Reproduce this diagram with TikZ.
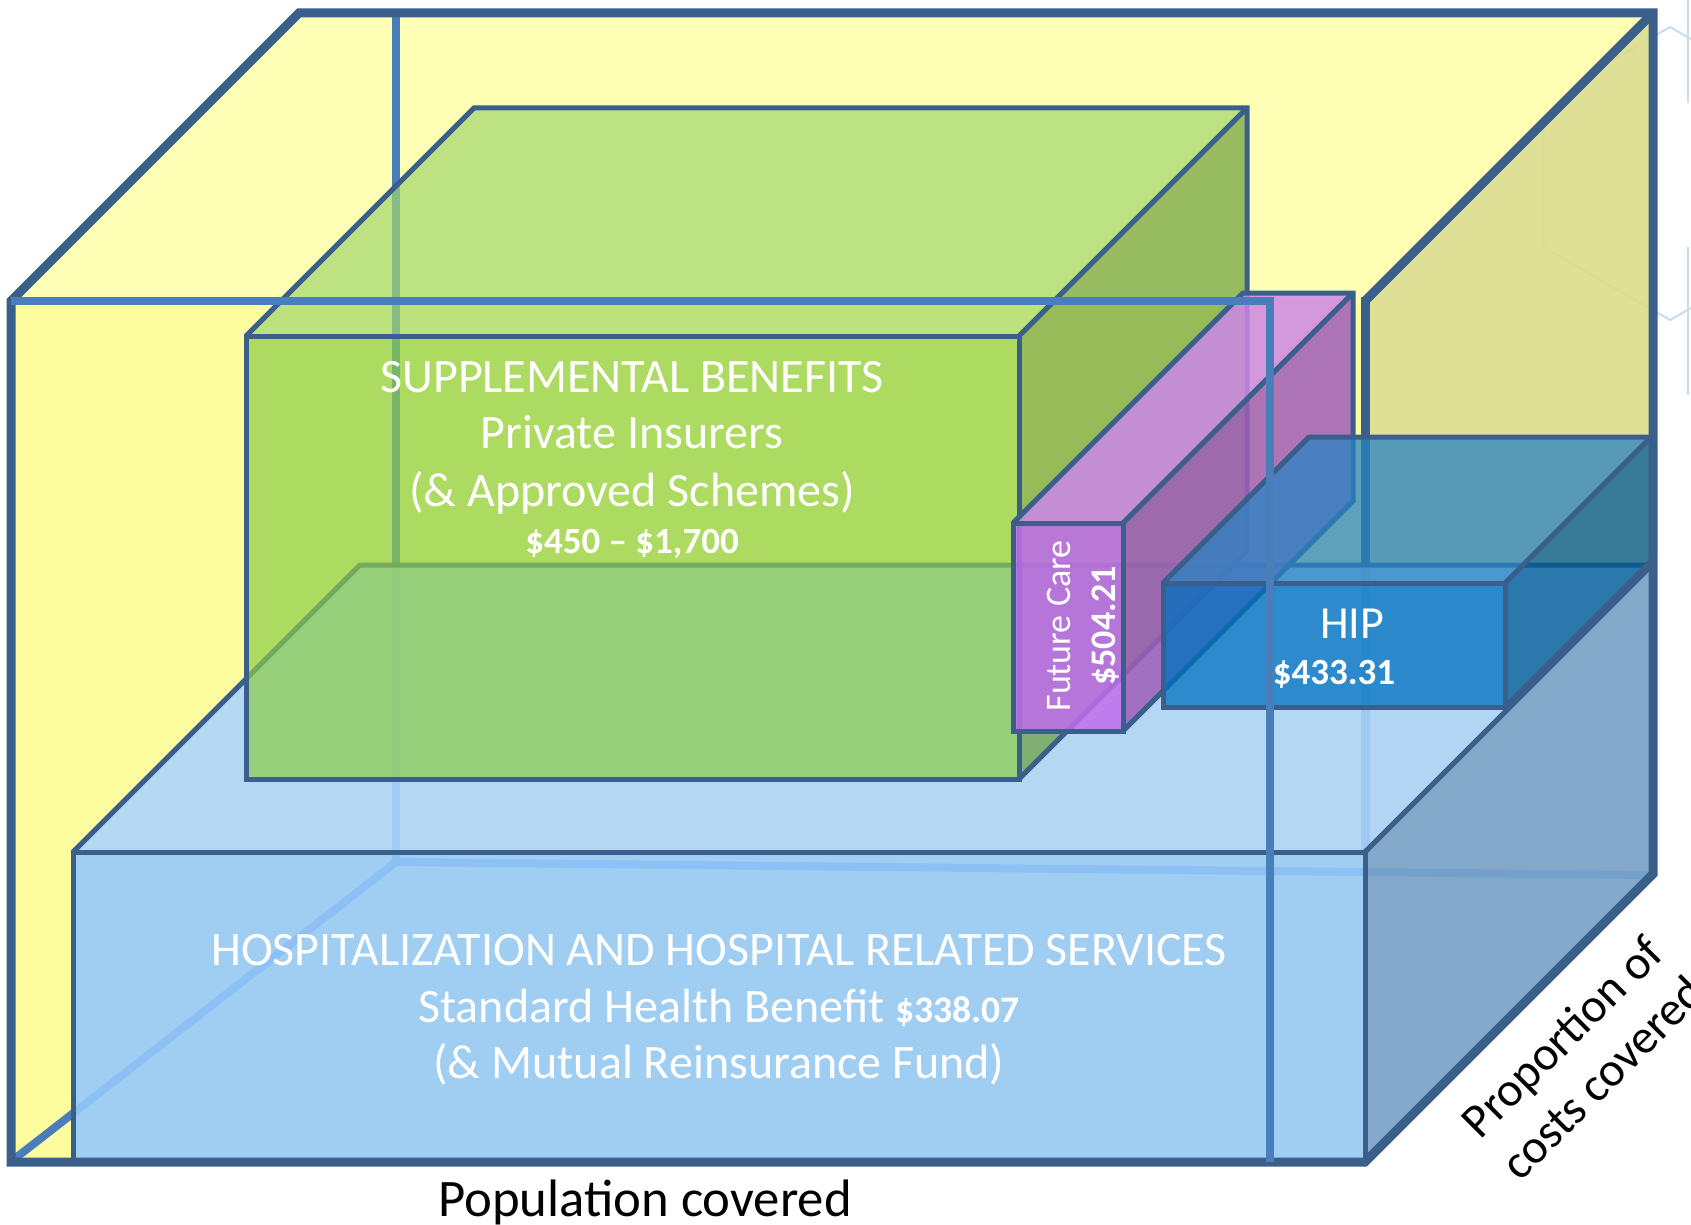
\documentclass[tikz,border=0pt]{standalone}
\usepackage{fontspec}
\setmainfont{Carlito}
\definecolor{edgeC}{HTML}{3A5F8B}
\definecolor{lightC}{HTML}{4A7EBB}
\definecolor{hexC}{HTML}{C6DCF0}
\definecolor{yTop}{HTML}{FFFFB5}
\definecolor{yFront}{HTML}{FDFDA0}
\definecolor{yRight}{HTML}{DCDC8A}
\definecolor{hTop}{HTML}{ADD4FD}
\definecolor{hFront}{HTML}{95C9FC}
\definecolor{hRight}{HTML}{7AA3CF}
\definecolor{gTop}{HTML}{A2D66D}
\definecolor{gFront}{HTML}{8CCC47}
\definecolor{gRight}{HTML}{6C9F3B}
\definecolor{pTop}{HTML}{CD88E8}
\definecolor{pFront}{HTML}{C06CEC}
\definecolor{pRight}{HTML}{9F5EBB}
\definecolor{bTop}{HTML}{2983C4}
\definecolor{bFront}{HTML}{0070C0}
\definecolor{bRight}{HTML}{005997}
\begin{document}
\begin{tikzpicture}[x=1pt,y=-1pt,line join=miter,
  outeredge/.style={draw=edgeC,line width=9pt},
  boxedge/.style={draw=edgeC,line width=5pt},
  lightedge/.style={draw=lightC,line width=8pt},
  hexline/.style={draw=hexC,line width=2pt},
  hospface/.style={fill opacity=0.9},
  greenface/.style={fill opacity=0.7},
  purpleface/.style={fill opacity=0.85},
  hipface/.style={fill opacity=0.75},
  whitetext/.style={text=white,inner sep=0pt,anchor=base},
  blacktext/.style={text=black,inner sep=0pt}]
\useasboundingbox (0,0) rectangle (1691,1225);
\fill[white] (0,0) rectangle (1691,1225);

% faint background hexagon
\draw[hexline] (1543,100) -- (1670,27) -- (1797,100) -- (1797,247) -- (1670,320) -- (1543,247) -- cycle;
\draw[hexline] (1688,-5) -- (1688,103);
\draw[hexline] (1688,247) -- (1688,395);

% outer box faces
\fill[yTop] (11,301) -- (299,13) -- (1653,13) -- (1365,301) -- cycle;
\fill[yRight,fill opacity=0.9] (1365,301) -- (1653,13) -- (1653,874) -- (1365,1162) -- cycle;
\fill[yFront] (11,301) rectangle (1365,1162);
\draw[outeredge] (1365,297) -- (1365,852);

% hidden edges of the outer box
\draw[lightedge] (396,9) -- (396,862);
\draw[lightedge] (13,1160) -- (396,862) -- (1651,875);

% hospitalization box
\fill[hTop,hospface] (73,852) -- (360,565) -- (1652,565) -- (1365,852) -- cycle;
\fill[hRight,hospface] (1365,852) -- (1652,565) -- (1652,874) -- (1365,1162) -- cycle;
\fill[hFront,hospface] (73,852) rectangle (1365,1162);
\draw[boxedge] (73,852) rectangle (1365,1162);
\draw[boxedge] (73,852) -- (360,565) -- (1652,565);
\draw[boxedge] (1365,852) -- (1652,565);

% supplemental (green) box
\fill[gTop,greenface] (246,336) -- (474,108) -- (1247,108) -- (1019,336) -- cycle;
\fill[gRight,greenface] (1019,336) -- (1247,108) -- (1247,551) -- (1019,779) -- cycle;
\fill[gFront,greenface] (246,336) rectangle (1019,779);
\draw[boxedge] (246,336) -- (474,108) -- (1247,108) -- (1247,551) -- (1019,779);
\draw[boxedge] (1247,108) -- (1019,336);
\draw[boxedge] (246,336) rectangle (1019,779);

% future care (purple) box
\fill[pTop,purpleface] (1013,523) -- (1243,293) -- (1353,293) -- (1123,523) -- cycle;
\fill[pRight,purpleface] (1123,523) -- (1353,293) -- (1353,501) -- (1123,731) -- cycle;
\fill[pFront,purpleface] (1013,523) rectangle (1123,731);
\draw[boxedge] (1013,523) -- (1243,293) -- (1353,293) -- (1353,501) -- (1123,731);
\draw[boxedge] (1353,293) -- (1123,523);
\draw[boxedge] (1013,523) rectangle (1123,731);

% HIP (blue) box
\fill[bTop,hipface] (1163,583) -- (1309,437) -- (1651,437) -- (1505,583) -- cycle;
\fill[bRight,hipface] (1505,583) -- (1651,437) -- (1651,561) -- (1505,707) -- cycle;
\fill[bFront,hipface] (1163,583) rectangle (1505,707);
\draw[boxedge] (1163,583) -- (1309,437) -- (1651,437) -- (1651,561) -- (1505,707);
\draw[boxedge] (1651,437) -- (1505,583);
\draw[boxedge] (1163,583) rectangle (1505,707);

% outer box visible edges
\draw[outeredge] (11,1162) -- (11,301) -- (299,13) -- (1653,13) -- (1653,874) -- (1365,1162) -- cycle;
\draw[outeredge] (1653,13) -- (1365,301);

% light front edges drawn on top
\draw[lightedge] (11,301) -- (1270,301) -- (1270,1162);

% texts
\node[whitetext,font=\fontsize{48}{57}\selectfont] (sup1) at (632,392) {SUPPLEMENTAL BENEFITS};
\node[whitetext,font=\fontsize{48}{57}\selectfont] (sup2) at (632,448) {Private Insurers};
\node[whitetext,font=\fontsize{48}{57}\selectfont] (sup3) at (632,506) {(\& Approved Schemes)};
\node[whitetext,font=\fontsize{37}{44}\selectfont\bfseries] (sup4) at (632,553) {\$450 – \$1,700};

\node[whitetext,font=\fontsize{48}{57}\selectfont] (hos1) at (719,965) {HOSPITALIZATION AND HOSPITAL RELATED SERVICES};
\node[whitetext,font=\fontsize{48}{57}\selectfont] (hos2) at (719,1022) {Standard Health Benefit {\fontsize{37.5}{44}\selectfont\bfseries \$338.07}};
\node[whitetext,font=\fontsize{48}{57}\selectfont] (hos3) at (719,1078) {(\& Mutual Reinsurance Fund)};

\node[whitetext,rotate=90,font=\fontsize{36}{44}\selectfont] (fc1) at (1070,626) {Future Care};
\node[whitetext,rotate=90,font=\fontsize{36}{44}\selectfont\bfseries] (fc2) at (1115,626) {\$504.21};

\node[whitetext,font=\fontsize{46}{55}\selectfont] (hip1) at (1352,638) {HIP};
\node[whitetext,font=\fontsize{37}{44}\selectfont\bfseries] (hip2) at (1334,684) {\$433.31};

\node[blacktext,anchor=base,font=\fontsize{52.7}{63}\selectfont] (pop) at (645,1216) {Population covered};
\node[blacktext,rotate=45,align=center,font=\fontsize{48}{58}\selectfont] (prop) at (1582,1057) {Proportion of\\costs covered};
\end{tikzpicture}
\end{document}
